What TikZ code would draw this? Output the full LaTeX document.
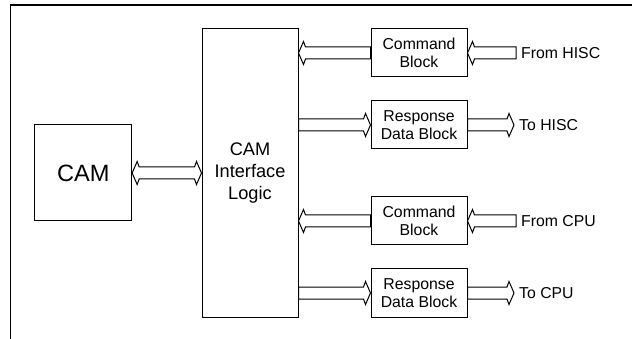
\documentclass[tikz,border=0pt]{standalone}
\usepackage{fontspec}
\setmainfont{Liberation Sans}
\usetikzlibrary{calc}
\tikzset{
  box/.style={draw=black, line width=1pt, minimum width=96pt, minimum height=48pt, inner sep=0pt, align=center, font=\fontsize{15.8}{18.6}\selectfont},
  conn/.style={draw=black, line width=1pt, line join=miter},
  lbl/.style={anchor=west, inner xsep=5pt, inner ysep=0pt, font=\fontsize{15.8}{18.6}\selectfont},
  frame/.style={draw=black, line width=1.2pt},
}
\newcommand{\hollowarrow}[2]{%
  \draw[conn] let \p1=#1, \p2=#2, \n1={(\x2-\x1)/abs(\x2-\x1)} in
    ({\x1},{\y1+6pt}) -- ({\x2-7pt*\n1},{\y1+6pt}) -- ({\x2-5pt*\n1},{\y1+11.5pt}) -- ({\x2},{\y1})
    -- ({\x2-5pt*\n1},{\y1-11.5pt}) -- ({\x2-7pt*\n1},{\y1-6pt}) -- ({\x1},{\y1-6pt}) -- cycle;}
\newcommand{\dblarrow}[2]{%
  \draw[conn] let \p1=#1, \p2=#2, \n1={(\x2-\x1)/abs(\x2-\x1)} in
    ({\x1+7pt*\n1},{\y1+6pt}) -- ({\x2-7pt*\n1},{\y1+6pt}) -- ({\x2-5pt*\n1},{\y1+11.5pt}) -- ({\x2},{\y1})
    -- ({\x2-5pt*\n1},{\y1-11.5pt}) -- ({\x2-7pt*\n1},{\y1-6pt}) -- ({\x1+7pt*\n1},{\y1-6pt})
    -- ({\x1+5pt*\n1},{\y1-11.5pt}) -- ({\x1},{\y1}) -- ({\x1+5pt*\n1},{\y1+11.5pt}) -- cycle;}
\begin{document}
\begin{tikzpicture}[x=1pt,y=-1pt]
\useasboundingbox (0,0) rectangle (632,339);
% outer frame
\draw[frame] (632,5) -- (10.5,5) -- (10.5,339);
% blocks
\node[box, minimum width=96.7pt, minimum height=96pt, font=\fontsize{23.6}{26}\selectfont] (cam) at (83.3,173) {CAM};
\node[box, minimum height=288pt, font=\fontsize{18.2}{22}\selectfont] (big) at (250,173) {CAM\\Interface\\Logic};
\node[box] (cmd1) at (419,53) {Command\\Block};
\node[box] (resp1) at (419,125) {Response\\Data Block};
\node[box] (cmd2) at (419,221) {Command\\Block};
\node[box] (resp2) at (419,293) {Response\\Data Block};
% labels
\node[lbl] (fromhisc) at (516,53) {From HISC};
\node[lbl] (tohisc) at (514,125) {To HISC};
\node[lbl] (fromcpu) at (516,221) {From CPU};
\node[lbl] (tocpu) at (514,293) {To CPU};
% connectors
\dblarrow{(cam.east)}{(big.west)}
\hollowarrow{(cmd1.west)}{(cmd1.west -| big.east)}
\hollowarrow{(fromhisc.west)}{(cmd1.east)}
\hollowarrow{(resp1.west -| big.east)}{(resp1.west)}
\hollowarrow{(resp1.east)}{(tohisc.west)}
\hollowarrow{(cmd2.west)}{(cmd2.west -| big.east)}
\hollowarrow{(fromcpu.west)}{(cmd2.east)}
\hollowarrow{(resp2.west -| big.east)}{(resp2.west)}
\hollowarrow{(resp2.east)}{(tocpu.west)}
\end{tikzpicture}
\end{document}
